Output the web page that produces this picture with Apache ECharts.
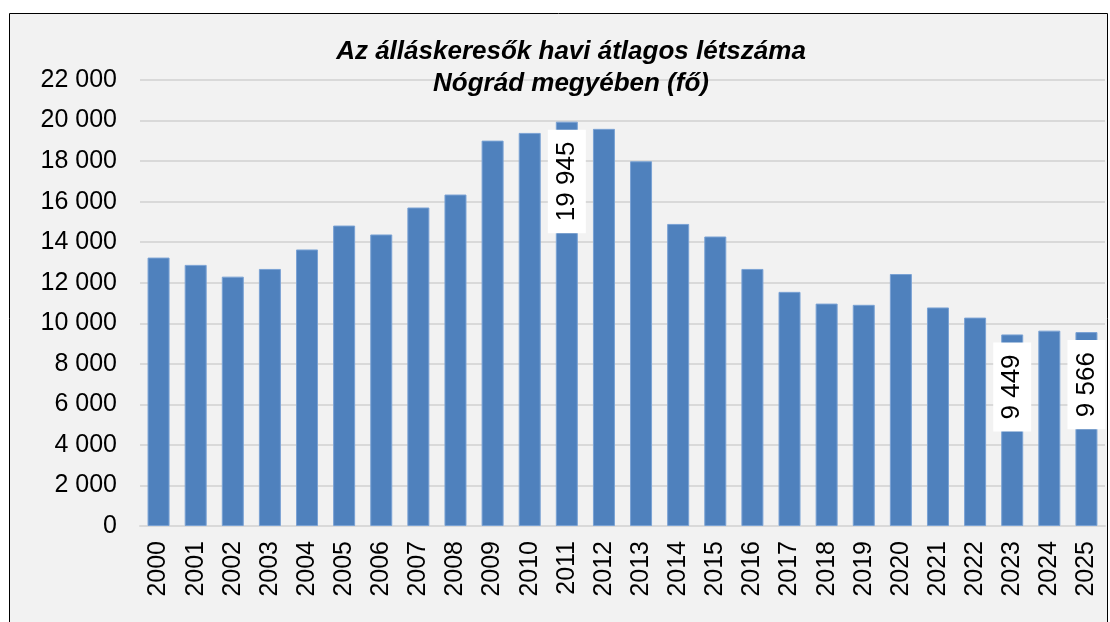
<!DOCTYPE html>
<html>
<head>
<meta charset="utf-8">
<script src="https://cdn.jsdelivr.net/npm/echarts@6/dist/echarts.min.js"></script>
<style>
html,body{margin:0;padding:0;background:#ffffff;}
#chart{width:1110px;height:622px;}
</style>
</head>
<body>
<div id="chart"></div>
<script>
const titleLines = ['Az álláskeresők havi átlagos létszáma', 'Nógrád megyében (fő)'];
const years = ['2000','2001','2002','2003','2004','2005','2006','2007','2008','2009','2010','2011','2012','2013','2014','2015','2016','2017','2018','2019','2020','2021','2022','2023','2024','2025'];
const values = [13240, 12880, 12300, 12680, 13640, 14820, 14380, 15710, 16350, 19010, 19390, 19945, 19590, 17990, 14900, 14280, 12680, 11550, 10970, 10910, 12430, 10780, 10280, 9449, 9636, 9566];
const labeledYears = ['2011', '2023', '2025'];
const yTicks = { min: 0, max: 22000, interval: 2000 };

function fmt(v) {
  return String(Math.round(v)).replace(/\B(?=(\d{3})+(?!\d))/g, ' ');
}

const font = 'Liberation Sans, Arial, sans-serif';
const chart = echarts.init(document.getElementById('chart'), null, { renderer: 'canvas' });

const seriesData = values.map((v, i) => {
  const item = { value: v };
  if (labeledYears.indexOf(years[i]) >= 0) {
    item.label = {
      show: true,
      position: 'insideTop',
      distance: 8,
      rotate: 90,
      align: 'right',
      verticalAlign: 'middle',
      formatter: p => fmt(p.value),
      fontFamily: font,
      fontSize: 26,
      lineHeight: 26,
      color: '#000',
      backgroundColor: '#ffffff',
      padding: [6, 12, 6, 12]
    };
  }
  return item;
});

chart.setOption({
  backgroundColor: '#ffffff',
  animation: false,
  graphic: [{
    type: 'rect',
    left: 9, top: 13,
    shape: { x: 0, y: 0, width: 1098, height: 640 },
    style: { fill: '#f2f2f2', stroke: '#000000', lineWidth: 1 },
    z: -10
  }],
  title: {
    text: titleLines.join('\n'),
    left: 566,
    top: 31,
    textAlign: 'center',
    textStyle: {
      fontFamily: font,
      fontSize: 26,
      fontWeight: 'bold',
      fontStyle: 'italic',
      color: '#000',
      lineHeight: 32
    }
  },
  grid: { left: 140, right: 5, top: 80, bottom: 96, containLabel: false },
  xAxis: {
    type: 'category',
    data: years,
    axisLine: { show: true, lineStyle: { color: '#d9d9d9', width: 2 } },
    axisTick: { show: false },
    axisLabel: {
      rotate: 90,
      interval: 0,
      margin: 15,
      fontFamily: font,
      fontSize: 25,
      color: '#000'
    }
  },
  yAxis: {
    type: 'value',
    min: yTicks.min,
    max: yTicks.max,
    interval: yTicks.interval,
    axisLine: { show: false },
    axisTick: { show: false },
    splitLine: { lineStyle: { color: '#d9d9d9', width: 2 } },
    axisLabel: {
      formatter: v => fmt(v),
      margin: 23,
      fontFamily: font,
      fontSize: 25,
      color: '#000'
    }
  },
  series: [{
    type: 'bar',
    data: seriesData,
    barWidth: 22,
    itemStyle: { color: '#4f81bd', borderColor: '#7aa2d4', borderWidth: 1 },
    label: { show: false }
  }]
});
</script>
</body>
</html>
